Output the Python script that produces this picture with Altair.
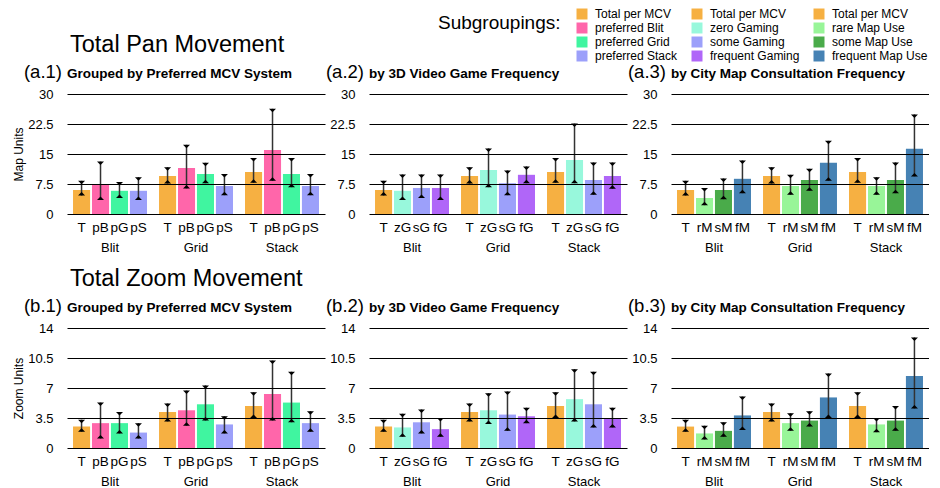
import altair as alt
import pandas as pd

# ---------------- data ----------------
MCV = ["Blit", "Grid", "Stack"]

A1_SHORT = ["T", "pB", "pG", "pS"]
A1_NAMES = ["Total per MCV", "preferred Blit", "preferred Grid", "preferred Stack"]
A2_SHORT = ["T", "zG", "sG", "fG"]
A2_NAMES = ["Total per MCV", "zero Gaming", "some Gaming", "frequent Gaming"]
A3_SHORT = ["T", "rM", "sM", "fM"]
A3_NAMES = ["Total per MCV", "rare Map Use", "some Map Use", "frequent Map Use"]

PANEL_TAGS = ["(a.1)", "(a.2)", "(a.3)", "(b.1)", "(b.2)", "(b.3)"]
PANEL_SUBTITLES = ["Grouped by Preferred MCV System", "by 3D Video Game Frequency",
                   "by City Map Consultation Frequency"]
ROW_TITLES = ["Total Pan Movement", "Total Zoom Movement"]
ROW_YTITLES = ["Map Units", "Zoom Units"]
PAN_TICKS = [0, 7.5, 15, 22.5, 30]
ZOOM_TICKS = [0, 3.5, 7, 10.5, 14]

# Pan movement (map units): rows = Blit, Grid, Stack ; cols = subgroups
PAN1_MEAN = [[6.0, 7.3, 5.8, 5.8], [9.5, 11.5, 10.0, 7.0], [10.5, 16.0, 10.0, 7.0]]
PAN1_LO = [[4.6, 3.5, 4.0, 3.5], [7.6, 6.4, 7.7, 4.7], [7.8, 8.3, 6.7, 4.7]]
PAN1_HI = [[8.3, 13.1, 8.0, 9.2], [11.7, 17.3, 12.8, 10.0], [14.0, 26.3, 14.0, 10.0]]

PAN2_MEAN = [[6.0, 5.8, 6.5, 6.5], [9.5, 11.0, 7.7, 9.8], [10.5, 13.5, 8.5, 9.5]]
PAN2_LO = [[4.6, 3.5, 4.0, 3.5], [7.6, 6.7, 4.7, 7.7], [7.8, 7.7, 4.8, 6.3]]
PAN2_HI = [[8.3, 9.9, 9.9, 9.9], [11.7, 16.4, 10.9, 11.9], [14.0, 22.6, 12.9, 12.9]]

PAN3_MEAN = [[6.0, 4.0, 6.0, 8.8], [9.5, 7.0, 8.5, 12.8], [10.5, 7.0, 8.5, 16.3]]
PAN3_LO = [[4.6, 2.2, 3.7, 5.2], [7.6, 4.8, 5.8, 8.3], [7.8, 4.8, 5.2, 9.4]]
PAN3_HI = [[8.3, 6.5, 8.9, 13.4], [11.7, 9.8, 11.3, 18.3], [14.0, 9.2, 12.9, 24.9]]

# Zoom movement (zoom units)
ZOOM1_MEAN = [[2.5, 2.9, 2.9, 1.8], [4.2, 4.4, 5.1, 2.75], [4.9, 6.3, 5.3, 2.9]]
ZOOM1_LO = [[1.9, 1.1, 1.7, 1.1], [3.1, 2.6, 3.2, 1.7], [3.5, 3.2, 3.0, 1.9]]
ZOOM1_HI = [[3.3, 5.3, 4.2, 2.9], [5.2, 6.7, 7.3, 3.7], [6.5, 10.2, 8.9, 4.3]]

ZOOM2_MEAN = [[2.5, 2.4, 3.0, 2.2], [4.2, 4.4, 3.9, 3.7], [4.9, 5.7, 5.1, 3.5]]
ZOOM2_LO = [[1.9, 1.3, 1.7, 1.3], [3.1, 2.8, 2.0, 2.9], [3.5, 3.1, 2.4, 2.4]]
ZOOM2_HI = [[3.3, 4.0, 4.5, 3.5], [5.2, 6.4, 6.6, 4.7], [6.5, 9.2, 8.9, 4.7]]

ZOOM3_MEAN = [[2.5, 1.7, 2.0, 3.8], [4.2, 2.9, 3.2, 5.9], [4.9, 2.75, 3.2, 8.4]]
ZOOM3_LO = [[1.9, 1.0, 1.3, 2.1], [3.1, 2.0, 2.5, 3.5], [3.5, 1.85, 2.0, 4.6]]
ZOOM3_HI = [[3.3, 2.6, 3.0, 6.0], [5.2, 4.05, 4.3, 8.7], [6.5, 3.5, 4.9, 12.9]]

# colour keys (legend order: column by column)
LEGEND_KEYS = ["1|Total per MCV", "1|preferred Blit", "1|preferred Grid", "1|preferred Stack",
               "2|Total per MCV", "2|zero Gaming", "2|some Gaming", "2|frequent Gaming",
               "3|Total per MCV", "3|rare Map Use", "3|some Map Use", "3|frequent Map Use"]
LEGEND_COLORS = ["#F6B042", "#FF66AA", "#40F5A0", "#9CA0FA",
                 "#F6B042", "#98F8DC", "#9CA0FA", "#B066F8",
                 "#F6B042", "#98F598", "#4AAB4A", "#4682B4"]

# ---------------- layout constants ----------------
W, H = 258, 120
FONT = "Liberation Sans"

LEGEND = alt.Legend(
    orient="none", legendX=509, legendY=-86, columns=3, title=None,
    symbolType="square", symbolSize=121, symbolStrokeWidth=0, symbolOpacity=1,
    labelFontSize=12, labelFont=FONT, labelColor="black", columnPadding=13,
    rowPadding=2, labelOffset=7, labelLimit=300,
    labelExpr="substring(datum.label, 2)",
)


def text_layer(txt, x, y, size, weight="normal", align="left"):
    return alt.Chart(pd.DataFrame({"t": [txt]})).mark_text(
        fontSize=size, fontWeight=weight, align=align, baseline="alphabetic",
        color="black", font=FONT,
    ).encode(x=alt.value(x), y=alt.value(y), text="t:N")


def panel(idx, row, col, names, shorts, mean, lo, hi):
    prefix = str(col + 1)
    recs = []
    for gi, g in enumerate(MCV):
        for si in range(4):
            recs.append(dict(mcv=g, order=si, key=f"{prefix}|{names[si]}",
                             short=shorts[si], mean=mean[gi][si],
                             lo=lo[gi][si], hi=hi[gi][si]))
    df = pd.DataFrame(recs)
    base = alt.Chart(df)

    ticks = PAN_TICKS if row == 0 else ZOOM_TICKS
    ymax = ticks[-1]
    yscale = alt.Scale(domain=[0, ymax], nice=False, zero=True)
    xscale = alt.Scale(domain=MCV, paddingInner=0.14, paddingOuter=0.07)
    xoff = alt.XOffset("order:O", scale=alt.Scale(paddingInner=0.1, paddingOuter=0))

    ykw = dict(values=ticks, labelExpr="'' + datum.value", grid=True,
               gridColor="black", gridWidth=1, gridOpacity=1, domain=False,
               ticks=False, tickSize=0, labelFontSize=13, labelPadding=14,
               labelColor="black", labelFont=FONT, zindex=1)
    if col == 0:
        ykw.update(title=ROW_YTITLES[row], titleFontSize=12,
                   titleFontWeight="normal", titlePadding=2,
                   titleColor="black", titleFont=FONT)
    else:
        ykw.update(title=None)
    yaxis = alt.Axis(**ykw)

    xaxis = alt.Axis(title=None, domain=False, ticks=False, tickSize=0,
                     labelFontSize=13, labelPadding=37, labelBaseline="alphabetic",
                     labelColor="black", labelAngle=0, grid=False, labelFont=FONT)
    xenc = alt.X("mcv:N", sort=MCV, scale=xscale, axis=xaxis)

    bars = base.mark_bar(opacity=1).encode(
        x=xenc,
        xOffset=xoff,
        y=alt.Y("mean:Q", scale=yscale, axis=yaxis),
        color=alt.Color("key:N", scale=alt.Scale(domain=LEGEND_KEYS,
                                                 range=LEGEND_COLORS),
                        legend=LEGEND),
    )
    rules = base.mark_rule(color="#333333", strokeWidth=1.5).encode(
        x=xenc, xOffset=xoff, y=alt.Y("lo:Q", scale=yscale, axis=yaxis), y2="hi:Q")
    cap_top = base.mark_point(shape="M-1,0L1,0L0,1Z", filled=True,
                              color="black", size=49, opacity=1).encode(
        x=xenc, xOffset=xoff, y=alt.Y("hi:Q", scale=yscale, axis=yaxis))
    cap_bot = base.mark_point(shape="M-1,0L1,0L0,-1Z", filled=True,
                              color="black", size=49, opacity=1).encode(
        x=xenc, xOffset=xoff, y=alt.Y("lo:Q", scale=yscale, axis=yaxis))
    sub = base.mark_text(fontSize=13.5, baseline="alphabetic", align="center",
                         color="black", font=FONT).encode(
        x=xenc, xOffset=xoff, y=alt.value(H + 17.5), text="short:N")

    layers = [bars, rules, cap_top, cap_bot, sub,
              text_layer(PANEL_TAGS[idx], -5, -16.5, 18.5, align="right"),
              text_layer(PANEL_SUBTITLES[col], 0, -16.5, 13.5, weight="bold")]
    if col == 0:
        layers.append(text_layer(ROW_TITLES[row], 3, -41.6, 23.5))
    if row == 0 and col == 0:
        layers.append(text_layer("Subgroupings:", 371, -65.3, 19))
    return alt.layer(*layers).properties(width=W, height=H)


panels = [
    panel(0, 0, 0, A1_NAMES, A1_SHORT, PAN1_MEAN, PAN1_LO, PAN1_HI),
    panel(1, 0, 1, A2_NAMES, A2_SHORT, PAN2_MEAN, PAN2_LO, PAN2_HI),
    panel(2, 0, 2, A3_NAMES, A3_SHORT, PAN3_MEAN, PAN3_LO, PAN3_HI),
    panel(3, 1, 0, A1_NAMES, A1_SHORT, ZOOM1_MEAN, ZOOM1_LO, ZOOM1_HI),
    panel(4, 1, 1, A2_NAMES, A2_SHORT, ZOOM2_MEAN, ZOOM2_LO, ZOOM2_HI),
    panel(5, 1, 2, A3_NAMES, A3_SHORT, ZOOM3_MEAN, ZOOM3_LO, ZOOM3_HI),
]

chart = alt.concat(
    *panels, columns=3, bounds="flush",
    spacing={"row": 114, "column": 44},
).properties(
    padding={"left": 4, "top": 0, "right": 0, "bottom": 0},
    autosize=alt.AutoSizeParams(type="pad"),
    background="white",
).configure(font=FONT).configure_view(strokeWidth=0)

chart.save("out.html", embed_options={"renderer": "svg", "actions": False})
